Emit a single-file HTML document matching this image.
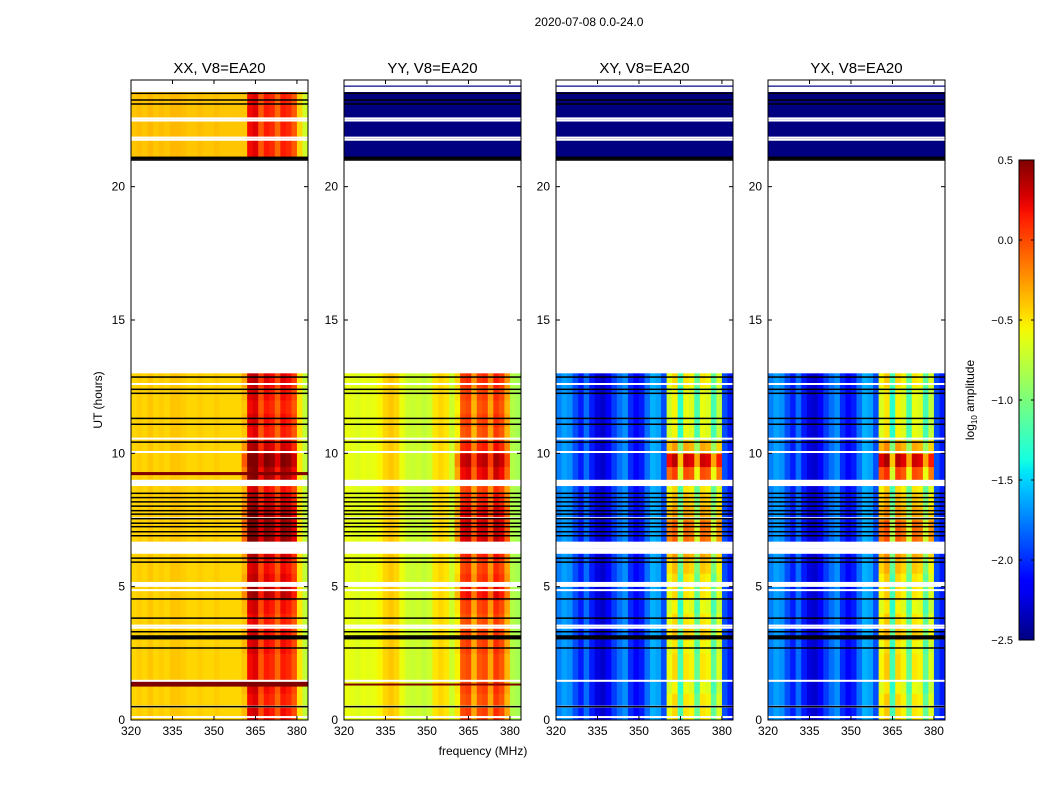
<!DOCTYPE html>
<html><head><meta charset="utf-8">
<style>
html,body{margin:0;padding:0;background:#fff;}
svg{display:block;font-family:"Liberation Sans","DejaVu Sans",sans-serif;}
</style></head>
<body>
<svg id="fig" width="1050" height="800" viewBox="0 0 1050 800" xmlns="http://www.w3.org/2000/svg">
<text x="589" y="26" font-size="12" text-anchor="middle">2020-07-08 0.0-24.0</text>
<text x="0" y="0" font-size="12" text-anchor="middle" transform="translate(102,400) rotate(-90)">UT (hours)</text>
<text x="483" y="755" font-size="12" text-anchor="middle">frequency (MHz)</text>
<text font-size="12" text-anchor="middle" transform="translate(974,400) rotate(-90)">log<tspan font-size="8" dy="3">10</tspan><tspan dy="-3"> amplitude</tspan></text>
</svg>
<script>
// ---- data ----
const panelTitles = ["XX, V8=EA20","YY, V8=EA20","XY, V8=EA20","YX, V8=EA20"];
const freqBins = [320,322,324,326,328,330,332,334,336,338,340,342,344,346,348,350,352,354,356,358,360,362,364,366,368,370,372,374,376,378,380,382];
const profileXX = [-0.45,-0.42,-0.45,-0.4,-0.45,-0.42,-0.45,-0.4,-0.4,-0.42,-0.45,-0.45,-0.42,-0.45,-0.45,-0.42,-0.45,-0.45,-0.45,-0.45,-0.45,0.15,0.2,-0.1,0.1,0.05,-0.15,0.1,0.05,-0.1,-0.5,-0.75];
const profileYY = [-0.6,-0.62,-0.65,-0.6,-0.62,-0.6,-0.55,-0.45,-0.4,-0.45,-0.6,-0.7,-0.72,-0.7,-0.75,-0.7,-0.5,-0.45,-0.5,-0.7,-0.6,-0.1,-0.05,-0.4,-0.1,-0.05,-0.35,0.0,-0.1,-0.4,-0.8,-0.85];
const profileXY = [-1.75,-1.65,-1.7,-1.9,-2.05,-1.8,-2.05,-2.25,-2.3,-2.15,-1.95,-1.8,-1.7,-2.0,-2.15,-2.05,-1.8,-1.6,-1.65,-1.9,-0.7,-0.55,-1.3,-0.6,-0.65,-1.2,-0.6,-0.65,-1.2,-0.75,-1.9,-2.05];
const profileYX = [-1.75,-1.65,-1.7,-1.9,-2.05,-1.8,-2.05,-2.25,-2.3,-2.15,-1.95,-1.8,-1.7,-2.0,-2.15,-2.05,-1.8,-1.6,-1.65,-1.9,-0.65,-0.5,-1.3,-0.55,-0.65,-1.2,-0.6,-0.65,-1.2,-0.75,-1.9,-2.05];
const rowStarts = [0,0.5,1,1.5,2,2.5,3,3.5,4,4.5,5,5.5,6,6.5,7,7.5,8,8.5,9,9.5,10,10.5,11,11.5,12,12.5];
const boostParallel = [0.1,0.05,0.1,0.05,0.05,0.1,0.1,0.05,0.1,0.25,0.15,0.1,0.2,0.35,0.35,0.3,0.2,0.1,0.3,0.4,0.2,0.05,0.1,0.05,0.1,0.15];
const boostCross = [0.1,0.1,0,0.1,0.1,0.05,0.2,0.1,0,0.1,0.1,0.2,0.3,0.5,0.5,0.3,0.2,0.1,0.6,0.9,0.3,0,0,0,0,0.1];
const topBlockStart = [21.1], topBlockEnd = [23.55];
const topValueCross = [-2.5];
const whiteRows = [0.11,0.5,1.47,3.46,3.54,4.87,5.03,5.09,5.14,6.27,6.33,6.39,6.46,6.5,6.56,6.62,6.65,7.57,8.81,8.87,8.93,8.97,10.05,10.55,12.6,21.76,21.84,22.48,22.56,23.6,23.68,23.83,23.9];
const blackRows = [0.5,2.7,3.05,3.1,3.15,3.31,3.82,4.54,5.92,6.07,6.91,7.06,7.25,7.38,7.55,7.72,7.85,8.02,8.18,8.34,8.5,10.42,11.09,11.31,12.25,12.4,12.86,21.0,21.05,21.1,23.1,23.25,23.5];
const rfiHoursXX = [1.29,1.33,1.37,1.41,9.22,9.26];
const rfiHoursYY = [1.33];
const xTicks = [320,335,350,365,380];
const yTicks = [0,5,10,15,20];
const cbTicks = [0.5,0.0,-0.5,-1.0,-1.5,-2.0,-2.5];

// ---- layout ----
const panelLefts = [131,344,556,768];
const PW = 177, PT = 80, PB = 720;
const FMIN = 320, FMAX = 384, TMIN = 0, TMAX = 24;
const VMIN = -2.5, VMAX = 0.5;
const svg = document.getElementById('fig');
const NS = 'http://www.w3.org/2000/svg';
function el(tag, attrs, parent){const e=document.createElementNS(NS,tag);for(const k in attrs)e.setAttribute(k,attrs[k]);(parent||svg).appendChild(e);return e;}
const JR=[[0,0],[0.35,0],[0.66,1],[0.89,1],[1,0.5]];
const JG=[[0,0],[0.125,0],[0.375,1],[0.64,1],[0.91,0],[1,0]];
const JB=[[0,0.5],[0.11,1],[0.34,1],[0.65,0],[1,0]];
function seg(s,t){for(let i=1;i<s.length;i++){if(t<=s[i][0]){const a=s[i-1],b=s[i];return a[1]+(b[1]-a[1])*(t-a[0])/(b[0]-a[0]);}}return s[s.length-1][1];}
function jet(v){let t=(v-VMIN)/(VMAX-VMIN);t=Math.max(0,Math.min(1,t));
  return `rgb(${Math.round(seg(JR,t)*255)},${Math.round(seg(JG,t)*255)},${Math.round(seg(JB,t)*255)})`;}
const yOf = h => PB - (h-TMIN)/(TMAX-TMIN)*(PB-PT);

const profiles=[profileXX,profileYY,profileXY,profileYX];
const panelNames=['xx','yy','xy','yx'];
profiles.forEach((prof,p)=>{
  const L=panelLefts[p];
  const xOf = f => L + (f-FMIN)/(FMAX-FMIN)*PW;
  const g=el('g',{});
  
  
  const boost = p<2 ? boostParallel : boostCross;
  const binW = freqBins[1]-freqBins[0];
  rowStarts.forEach((h,r)=>{
    freqBins.forEach((f,i)=>{
      const inBand = f>=360 && f<380;
      const v = prof[i] + (inBand ? boost[r] : 0);
      const c=el('rect',{x:xOf(f).toFixed(2),y:yOf(h+0.5).toFixed(2),width:(xOf(f+binW)-xOf(f)+0.4).toFixed(2),height:(yOf(h)-yOf(h+0.5)+0.4).toFixed(2),fill:jet(v)},g);
      
      
    });
  });
  topBlockStart.forEach((h0,k)=>{
    freqBins.forEach((f,i)=>{
      const v = p==0 ? prof[i]+0.05 : topValueCross[k];
      const c=el('rect',{x:xOf(f).toFixed(2),y:yOf(topBlockEnd[k]).toFixed(2),width:(xOf(f+binW)-xOf(f)+0.4).toFixed(2),height:(yOf(h0)-yOf(topBlockEnd[k])).toFixed(2),fill:jet(v)},g);
      
      
    });
  });
  const rfi = p==0 ? rfiHoursXX : (p==1 ? rfiHoursYY : []);
  rfi.forEach(h=>{el('rect',{x:L,y:yOf(h)-1,width:PW,height:2,fill:'#800000'},g);});
  whiteRows.forEach(h=>{el('rect',{x:L,y:yOf(h)-1,width:PW,height:2,fill:'#fff'},g);});
  blackRows.forEach(h=>{el('rect',{x:L,y:yOf(h)-0.75,width:PW,height:1.5,fill:'#000'},g);});
  if(p>0){el('rect',{x:L,y:yOf(23.77)-0.6,width:PW,height:1.2,fill:'#000080'},g);}
  const fr=el('rect',{x:L,y:PT,width:PW,height:PB-PT,fill:'none',stroke:'#000','stroke-width':1});
  
  
  const t=el('text',{x:L+PW/2,y:73,'font-size':15,'text-anchor':'middle'});
  t.textContent=panelTitles[p];
  
  
  xTicks.forEach(f=>{
    const x=xOf(f);
    el('line',{x1:x,x2:x,y1:PB,y2:PB-4,stroke:'#000'});
    el('line',{x1:x,x2:x,y1:PT,y2:PT+4,stroke:'#000'});
    const tl=el('text',{x:x,y:PB+15,'font-size':12,'text-anchor':'middle'});
    tl.textContent=f;
    
    
  });
  yTicks.forEach(h=>{
    const y=yOf(h);
    el('line',{x1:L,x2:L+4,y1:y,y2:y,stroke:'#000'});
    el('line',{x1:L+PW,x2:L+PW-4,y1:y,y2:y,stroke:'#000'});
    const tl=el('text',{x:L-6,y:y+4,'font-size':12,'text-anchor':'end'});
    tl.textContent=h;
    
    
  });
});

// colorbar
const CX=1019, CW=15, CT=160, CBB=640;
const defs=el('defs',{});
const lg=el('linearGradient',{id:'cbg',x1:0,y1:1,x2:0,y2:0},defs);
for(let i=0;i<=40;i++){const v=VMIN+(VMAX-VMIN)*i/40;el('stop',{offset:(i/40),'stop-color':jet(v)},lg);}
const cb=el('rect',{x:CX,y:CT,width:CW,height:CBB-CT,fill:'url(#cbg)',stroke:'#000','stroke-width':1});


cbTicks.forEach(v=>{
  const y=CBB-(v-VMIN)/(VMAX-VMIN)*(CBB-CT);
  el('line',{x1:CX,x2:CX+3,y1:y,y2:y,stroke:'#000'});
  el('line',{x1:CX+CW,x2:CX+CW-3,y1:y,y2:y,stroke:'#000'});
  const tl=el('text',{x:1013,y:y+4,'font-size':11,'text-anchor':'end'});
  tl.textContent=(v<0?'\u2212':'')+Math.abs(v).toFixed(1);
  
  
});
</script>
</body></html>
